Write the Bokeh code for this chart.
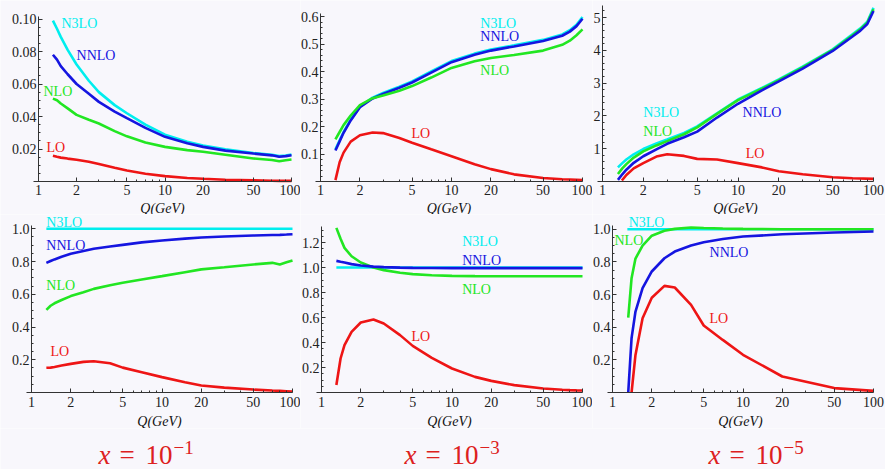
from bokeh.plotting import figure
from bokeh.layouts import column, row
from bokeh.models import FixedTicker, Range1d
from bokeh.core.properties import value
from bokeh.embed import file_html
from bokeh.resources import INLINE

# ---------------- data ----------------
SERIES = ["N3LO", "NNLO", "NLO", "LO"]
X_TICKS = [1, 2, 5, 10, 20, 50, 100]
X_MINOR = [3, 4, 6, 7, 8, 9, 30, 40, 60, 70, 80, 90]
TITLE_EXPONENTS = ["\u22121", "\u22123", "\u22125"]

Q = [1.3, 1.4, 1.5, 1.7, 2, 2.5, 3, 4, 5, 7, 10, 15, 20, 30, 50, 70, 80, 90, 100]
Q_FLAT = [1.3, 100]
RATIO_FLAT = [1.0, 1.0]

# x = 1e-1, absolute
p1_n3lo = [0.099, 0.094, 0.089, 0.081, 0.072, 0.062, 0.055, 0.047, 0.042, 0.035, 0.0288, 0.0245, 0.0222, 0.0198, 0.0175, 0.0164, 0.0156, 0.0160, 0.0166]
p1_nnlo = [0.078, 0.075, 0.071, 0.066, 0.060, 0.054, 0.049, 0.043, 0.039, 0.033, 0.0275, 0.0235, 0.0213, 0.0190, 0.0172, 0.0161, 0.0152, 0.0156, 0.0162]
p1_nlo = [0.051, 0.050, 0.048, 0.045, 0.041, 0.038, 0.0357, 0.031, 0.0278, 0.024, 0.0213, 0.0193, 0.0183, 0.0165, 0.0142, 0.0132, 0.0125, 0.0131, 0.0135]
p1_lo = [0.0158, 0.0152, 0.0147, 0.0141, 0.0134, 0.0122, 0.0108, 0.0085, 0.0068, 0.0048, 0.0033, 0.0022, 0.0017, 0.0011, 0.0007, 0.0005, 0.0004, 0.0004, 0.0004]

# x = 1e-3, absolute
p2_n3lo = [0.117, 0.150, 0.180, 0.225, 0.272, 0.305, 0.322, 0.345, 0.364, 0.400, 0.438, 0.465, 0.480, 0.495, 0.515, 0.535, 0.550, 0.570, 0.598]
p2_nnlo = [0.113, 0.146, 0.177, 0.222, 0.270, 0.302, 0.318, 0.341, 0.360, 0.396, 0.434, 0.461, 0.476, 0.491, 0.511, 0.530, 0.545, 0.565, 0.592]
p2_nlo = [0.153, 0.180, 0.205, 0.240, 0.278, 0.303, 0.313, 0.330, 0.347, 0.378, 0.413, 0.437, 0.449, 0.460, 0.476, 0.497, 0.512, 0.532, 0.553]
p2_lo = [0.005, 0.070, 0.105, 0.145, 0.168, 0.178, 0.176, 0.158, 0.141, 0.117, 0.092, 0.063, 0.045, 0.026, 0.013, 0.008, 0.007, 0.006, 0.005]

# x = 1e-5, absolute
p3_n3lo = [0.43, 0.56, 0.67, 0.83, 0.99, 1.16, 1.28, 1.48, 1.68, 2.08, 2.50, 2.85, 3.11, 3.50, 4.03, 4.49, 4.67, 4.87, 5.30]
p3_nnlo = [0.05, 0.22, 0.36, 0.57, 0.77, 0.98, 1.15, 1.35, 1.52, 1.95, 2.37, 2.78, 3.05, 3.44, 3.98, 4.42, 4.60, 4.80, 5.20]
p3_nlo = [0.23, 0.40, 0.53, 0.73, 0.92, 1.10, 1.23, 1.44, 1.65, 2.06, 2.48, 2.83, 3.09, 3.48, 4.01, 4.46, 4.64, 4.84, 5.25]
Q3_LO = [1.39, 1.5, 1.7, 2, 2.5, 3, 4, 5, 7, 10, 15, 20, 30, 50, 70, 100]
p3_lo = [0.03, 0.20, 0.40, 0.56, 0.76, 0.83, 0.78, 0.69, 0.67, 0.56, 0.43, 0.31, 0.22, 0.13, 0.10, 0.08]

# x = 1e-1, ratio to N3LO
p4_nnlo = [0.792, 0.803, 0.813, 0.829, 0.847, 0.865, 0.878, 0.892, 0.902, 0.917, 0.929, 0.940, 0.947, 0.953, 0.959, 0.962, 0.963, 0.965, 0.967]
p4_nlo = [0.505, 0.530, 0.545, 0.565, 0.589, 0.613, 0.633, 0.655, 0.670, 0.690, 0.711, 0.735, 0.752, 0.765, 0.782, 0.792, 0.782, 0.795, 0.806]
p4_lo = [0.151, 0.152, 0.156, 0.165, 0.175, 0.187, 0.191, 0.179, 0.152, 0.124, 0.094, 0.063, 0.043, 0.030, 0.018, 0.012, 0.010, 0.008, 0.006]

# x = 1e-3, ratio to N3LO
p5_nnlo = [1.053, 1.046, 1.040, 1.027, 1.016, 1.007, 1.003, 0.999, 0.997, 0.996, 0.995, 0.995, 0.995, 0.995, 0.995, 0.995, 0.995, 0.995, 0.995]
p5_nlo = [1.317, 1.230, 1.157, 1.090, 1.040, 1.000, 0.979, 0.958, 0.947, 0.938, 0.933, 0.931, 0.930, 0.930, 0.930, 0.930, 0.930, 0.930, 0.930]
p5_lo = [0.060, 0.272, 0.379, 0.485, 0.560, 0.584, 0.552, 0.459, 0.373, 0.277, 0.192, 0.125, 0.093, 0.059, 0.032, 0.022, 0.019, 0.017, 0.016]

# x = 1e-5, ratio to N3LO
Q6 = [1.32, 1.4, 1.5, 1.7, 2, 2.5, 3, 4, 5, 7, 10, 20, 50, 100]
p6_nlo = [0.459, 0.700, 0.820, 0.900, 0.960, 0.990, 1.002, 1.010, 1.007, 1.004, 1.002, 1.000, 1.000, 1.000]
p6_nnlo = [0.000, 0.333, 0.496, 0.639, 0.741, 0.822, 0.863, 0.900, 0.920, 0.940, 0.955, 0.969, 0.980, 0.986]
Q6_LO = [1.4, 1.5, 1.7, 2, 2.5, 3, 4, 5, 7, 10, 20, 50, 100]
p6_lo = [0.000, 0.230, 0.455, 0.580, 0.653, 0.643, 0.537, 0.410, 0.322, 0.231, 0.098, 0.027, 0.010]

# ---------------- style ----------------
BG = "#f8f7fc"
COL = {"N3LO": "#00eeee", "NNLO": "#1515e0", "NLO": "#22e622", "LO": "#ee1515"}
SERIF = "Liberation Serif"
AX = "#333333"


def frange(a, b, step, skip):
    out = []
    v = a
    while v <= b + 1e-9:
        if all(abs(v - s) > 1e-9 for s in skip):
            out.append(round(v, 6))
        v += step
    return out


def panel(W, H, L, R, B, k, y_bound, y_major, y_fmt, y_minor_step,
          curves, labels, x_std, x_lstd):
    """W,H: figure size; L,R: pixel x of Q=1 and Q=100; B: pixel y of value 0;
    k: pixels per unit of y. The frame covers the whole canvas; axes are pinned."""
    dec = (R - L) / 2.0
    x0 = 10 ** (-L / dec)
    x1 = 10 ** ((W - L) / dec)
    y0 = -(H - B) / k
    y1 = B / k
    p = figure(width=W, height=H, x_axis_type="log",
               x_range=Range1d(x0, x1), y_range=Range1d(y0, y1),
               output_backend="svg", toolbar_location=None,
               min_border_left=0, min_border_right=0,
               min_border_top=0, min_border_bottom=0,
               background_fill_color=BG, border_fill_color=BG,
               outline_line_color=None)
    p.grid.visible = False
    for qs, ys, name in curves:
        p.line(qs, ys, line_color=COL[name], line_width=2.6)
    for name, (lx, ly) in labels.items():
        p.text([lx], [ly], text=[name], text_color=COL[name],
               text_font=value(SERIF), text_font_size="14px",
               text_align="left", text_baseline="middle")
    # x axis pinned at y = 0
    xa = p.xaxis[0]
    xa.fixed_location = 0
    xa.bounds = (0.92, 100)
    xa.ticker = FixedTicker(ticks=X_TICKS, minor_ticks=X_MINOR)
    xa.major_label_overrides = {t: str(t) for t in X_TICKS}
    xa.axis_label = "Q(GeV)"
    xa.axis_label_text_font = SERIF
    xa.axis_label_text_font_style = "italic"
    xa.axis_label_text_font_size = "14px"
    xa.axis_label_text_color = "#111111"
    xa.axis_label_standoff = x_lstd
    xa.major_label_standoff = x_std
    # y axis pinned at Q = 1
    ya = p.yaxis[0]
    ya.fixed_location = 1
    ya.bounds = (0, y_bound)
    minors = frange(y_minor_step, y_bound, y_minor_step, y_major)
    ya.ticker = FixedTicker(ticks=y_major, minor_ticks=minors)
    ya.major_label_overrides = {t: (y_fmt % t) for t in y_major}
    ya.major_label_standoff = 2
    for ax in (xa, ya):
        ax.axis_line_color = AX
        ax.axis_line_width = 1
        ax.major_tick_in = 4
        ax.major_tick_out = 0
        ax.minor_tick_in = 2
        ax.minor_tick_out = 0
        ax.major_tick_line_color = AX
        ax.minor_tick_line_color = AX
        ax.major_label_text_font = SERIF
        ax.major_label_text_font_size = "14px"
        ax.major_label_text_color = "#222222"
    return p


TOP_H, BOT_H, TITLE_H = 214, 214, 41

p1 = panel(300, TOP_H, 38, 291, 181, 1625, 0.1015,
           [0.02, 0.04, 0.06, 0.08, 0.10], "%.2f", 0.005,
           [(Q, p1_n3lo, "N3LO"), (Q, p1_nnlo, "NNLO"), (Q, p1_nlo, "NLO"), (Q, p1_lo, "LO")],
           {"N3LO": (1.52, 0.0975), "NNLO": (2.0, 0.0778), "NLO": (1.095, 0.0551), "LO": (1.157, 0.0212)},
           3, 3)
p2 = panel(292, TOP_H, 20, 282, 181, 275, 0.61,
           [0.1, 0.2, 0.3, 0.4, 0.5, 0.6], "%.1f", 0.02,
           [(Q, p2_n3lo, "N3LO"), (Q, p2_nnlo, "NNLO"), (Q, p2_nlo, "NLO"), (Q, p2_lo, "LO")],
           {"N3LO": (16.6, 0.574), "NNLO": (16.6, 0.527), "NLO": (16.6, 0.403), "LO": (4.94, 0.176)},
           3, 3)
p3 = panel(293, TOP_H, 10, 281, 181, 32.8, 5.37,
           [1, 2, 3, 4, 5], "%d", 0.2,
           [(Q, p3_n3lo, "N3LO"), (Q, p3_nlo, "NLO"), (Q, p3_nnlo, "NNLO"), (Q3_LO, p3_lo, "LO")],
           {"N3LO": (2.0, 2.1), "NLO": (2.0, 1.52), "NNLO": (10.8, 2.1), "LO": (11.4, 0.85)},
           3, 3)

p4 = panel(300, BOT_H, 31, 292, 178, 163.7, 1.02,
           [0.2, 0.4, 0.6, 0.8, 1.0], "%.1f", 0.05,
           [(Q_FLAT, RATIO_FLAT, "N3LO"), (Q, p4_nnlo, "NNLO"), (Q, p4_nlo, "NLO"), (Q, p4_lo, "LO")],
           {"N3LO": (1.30, 1.04), "NNLO": (1.30, 0.898), "NLO": (1.30, 0.654), "LO": (1.40, 0.25)},
           4, 4)
p5 = panel(292, BOT_H, 21, 282, 178, 125, 1.33,
           [0.2, 0.4, 0.6, 0.8, 1.0, 1.2], "%.1f", 0.05,
           [(Q_FLAT, RATIO_FLAT, "N3LO"), (Q, p5_nlo, "NLO"), (Q, p5_nnlo, "NNLO"), (Q, p5_lo, "LO")],
           {"N3LO": (11.96, 1.21), "NNLO": (11.96, 1.058), "NLO": (11.96, 0.826), "LO": (4.9, 0.45)},
           4, 4)
p6 = panel(293, BOT_H, 20, 281, 178, 163.3, 1.02,
           [0.2, 0.4, 0.6, 0.8, 1.0], "%.1f", 0.05,
           [(Q_FLAT, RATIO_FLAT, "N3LO"), (Q6, p6_nlo, "NLO"), (Q6, p6_nnlo, "NNLO"), (Q6_LO, p6_lo, "LO")],
           {"N3LO": (1.33, 1.042), "NLO": (1.036, 0.929), "NNLO": (5.54, 0.86), "LO": (5.54, 0.455)},
           4, 4)

# bottom titles: x = 10^-n
pt = figure(width=885, height=TITLE_H, x_range=Range1d(0, 885), y_range=Range1d(0, TITLE_H),
            output_backend="svg", toolbar_location=None,
            x_axis_location=None, y_axis_location=None,
            min_border_left=0, min_border_right=0, min_border_top=0, min_border_bottom=0,
            background_fill_color=BG, border_fill_color=BG, outline_line_color=None)
pt.grid.visible = False
TRED = "#dd2020"
for left, expo in zip([98, 404, 708], TITLE_EXPONENTS):
    pt.text([left], [15], text=["x"], text_color=TRED, text_font=value(SERIF),
            text_font_style="italic", text_font_size="27px",
            text_align="left", text_baseline="middle")
    pt.text([left + 21], [15], text=["="], text_color=TRED, text_font=value(SERIF),
            text_font_size="27px", text_align="left", text_baseline="middle")
    pt.text([left + 47], [15], text=["10"], text_color=TRED, text_font=value(SERIF),
            text_font_size="27px", text_align="left", text_baseline="middle")
    pt.text([left + 75], [22], text=[expo], text_color=TRED, text_font=value(SERIF),
            text_font_size="19px", text_align="left", text_baseline="middle")

layout = column(row(p1, p2, p3), row(p4, p5, p6), pt)
open("out.html", "w").write(file_html(layout, INLINE))
